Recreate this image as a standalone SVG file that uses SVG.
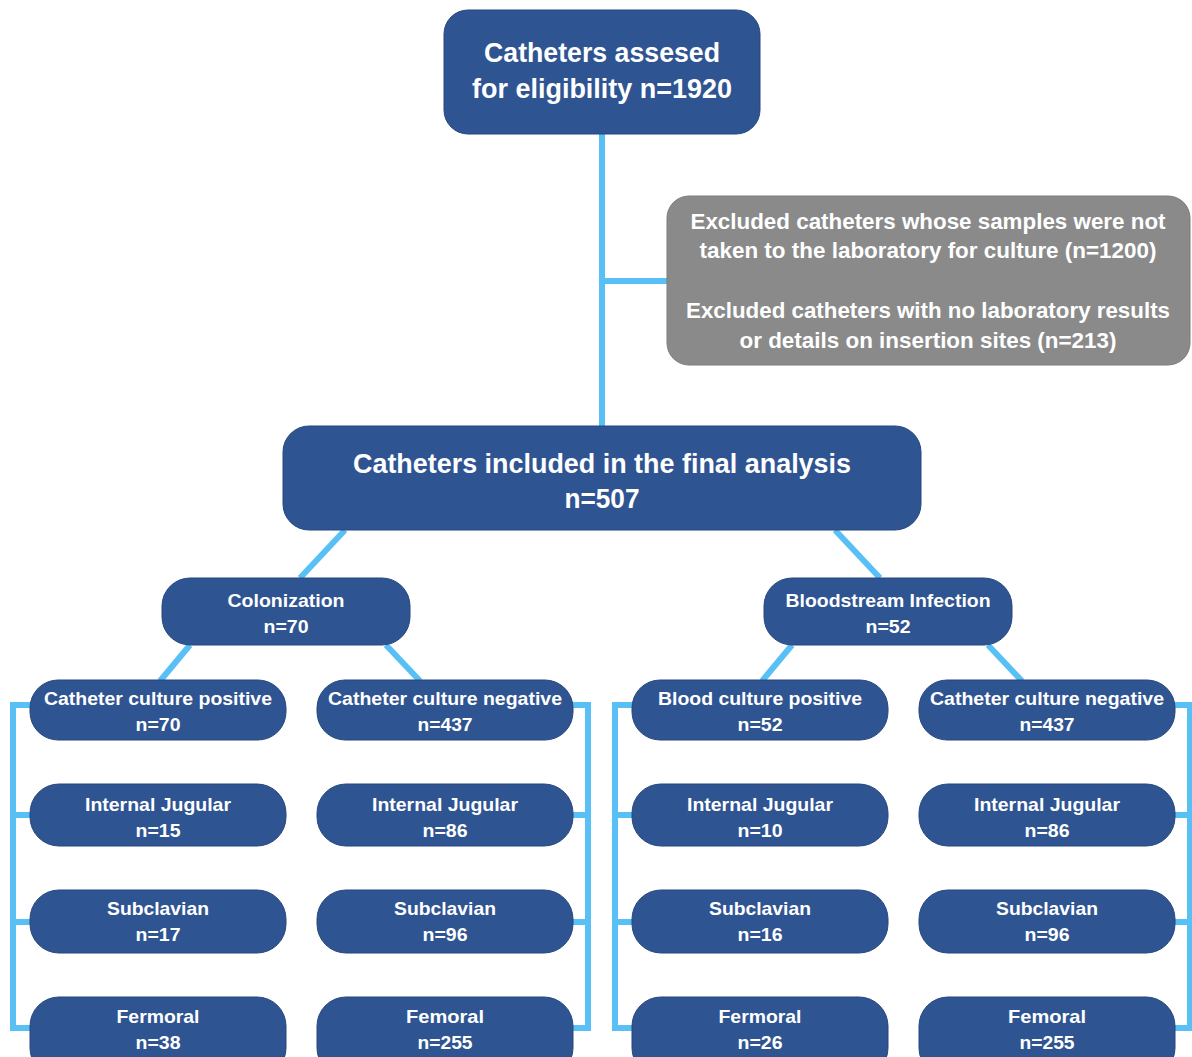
<svg xmlns="http://www.w3.org/2000/svg" width="1192" height="1057" viewBox="0 0 1192 1057">
<style>
.b{fill:#2f5492;stroke:#27477e;stroke-width:1}
.g{fill:#8a8a8a;stroke:#7c7c7c;stroke-width:1}
.t{font-family:"Liberation Sans",Arial,sans-serif;font-weight:bold;fill:#ffffff;text-anchor:middle}
.c{fill:none;stroke:#58c0f4;stroke-width:6;stroke-linejoin:miter;stroke-linecap:butt}
</style>
<rect width="1192" height="1057" fill="#ffffff"/>
<g id="connectors">
<path class="c" d="M602 134 V426"/>
<path class="c" d="M602 281 H668"/>
<path class="c" d="M345 530 L300 578"/>
<path class="c" d="M835 530 L880 578"/>
<path class="c" d="M190 645 L160 681"/>
<path class="c" d="M386 645 L420 681"/>
<path class="c" d="M792 645 L762 681"/>
<path class="c" d="M988 645 L1022 681"/>
<path class="c" d="M31 705 H13 V1028 H31 M13 815 H31 M13 922 H31"/>
<path class="c" d="M572 705 H588 V1028 H572 M588 815 H572 M588 922 H572"/>
<path class="c" d="M633 705 H615 V1028 H633 M615 815 H633 M615 922 H633"/>
<path class="c" d="M1174 705 H1190 V1028 H1174 M1190 815 H1174 M1190 922 H1174"/>
</g>
<g id="n_assessed">
<rect class="b" x="444" y="10" width="316" height="124" rx="24"/>
<text class="t" x="602" y="62" font-size="28" textLength="236" lengthAdjust="spacingAndGlyphs">Catheters assesed</text>
<text class="t" x="602" y="98" font-size="28" textLength="260" lengthAdjust="spacingAndGlyphs">for eligibility n=1920</text>
</g>
<g id="n_excluded">
<rect class="g" x="667" y="196" width="523" height="169" rx="22"/>
<text class="t" x="928" y="229" font-size="22" textLength="475" lengthAdjust="spacingAndGlyphs">Excluded catheters whose samples were not</text>
<text class="t" x="928" y="258" font-size="22" textLength="457" lengthAdjust="spacingAndGlyphs">taken to the laboratory for culture (n=1200)</text>
<text class="t" x="928" y="318" font-size="22" textLength="484" lengthAdjust="spacingAndGlyphs">Excluded catheters with no laboratory results</text>
<text class="t" x="928" y="348" font-size="22" textLength="377" lengthAdjust="spacingAndGlyphs">or details on insertion sites (n=213)</text>
</g>
<g id="n_included">
<rect class="b" x="283" y="426" width="638" height="104" rx="26"/>
<text class="t" x="602" y="473" font-size="27" textLength="498" lengthAdjust="spacingAndGlyphs">Catheters included in the final analysis</text>
<text class="t" x="602" y="508" font-size="27" textLength="75" lengthAdjust="spacingAndGlyphs">n=507</text>
</g>
<g id="n_colonization">
<rect class="b" x="162" y="578" width="248" height="67" rx="28"/>
<text class="t" x="286" y="607" font-size="19" textLength="117" lengthAdjust="spacingAndGlyphs">Colonization</text>
<text class="t" x="286" y="633" font-size="19" textLength="45" lengthAdjust="spacingAndGlyphs">n=70</text>
</g>
<g id="n_bsi">
<rect class="b" x="764" y="578" width="248" height="67" rx="28"/>
<text class="t" x="888" y="607" font-size="19" textLength="205" lengthAdjust="spacingAndGlyphs">Bloodstream Infection</text>
<text class="t" x="888" y="633" font-size="19" textLength="45" lengthAdjust="spacingAndGlyphs">n=52</text>
</g>
<g id="n_ccpos">
<rect class="b" x="30" y="680" width="256" height="60" rx="28"/>
<text class="t" x="158" y="705" font-size="19" textLength="228" lengthAdjust="spacingAndGlyphs">Catheter culture positive</text>
<text class="t" x="158" y="731" font-size="19" textLength="45" lengthAdjust="spacingAndGlyphs">n=70</text>
</g>
<g id="n_ccneg1">
<rect class="b" x="317" y="680" width="256" height="60" rx="28"/>
<text class="t" x="445" y="705" font-size="19" textLength="234" lengthAdjust="spacingAndGlyphs">Catheter culture negative</text>
<text class="t" x="445" y="731" font-size="19" textLength="55" lengthAdjust="spacingAndGlyphs">n=437</text>
</g>
<g id="n_bcpos">
<rect class="b" x="632" y="680" width="256" height="60" rx="28"/>
<text class="t" x="760" y="705" font-size="19" textLength="204" lengthAdjust="spacingAndGlyphs">Blood culture positive</text>
<text class="t" x="760" y="731" font-size="19" textLength="45" lengthAdjust="spacingAndGlyphs">n=52</text>
</g>
<g id="n_ccneg2">
<rect class="b" x="919" y="680" width="256" height="60" rx="28"/>
<text class="t" x="1047" y="705" font-size="19" textLength="234" lengthAdjust="spacingAndGlyphs">Catheter culture negative</text>
<text class="t" x="1047" y="731" font-size="19" textLength="55" lengthAdjust="spacingAndGlyphs">n=437</text>
</g>
<g id="n_ij1">
<rect class="b" x="30" y="784" width="256" height="62" rx="29"/>
<text class="t" x="158" y="811" font-size="19" textLength="146" lengthAdjust="spacingAndGlyphs">Internal Jugular</text>
<text class="t" x="158" y="837" font-size="19" textLength="45" lengthAdjust="spacingAndGlyphs">n=15</text>
</g>
<g id="n_ij2">
<rect class="b" x="317" y="784" width="256" height="62" rx="29"/>
<text class="t" x="445" y="811" font-size="19" textLength="146" lengthAdjust="spacingAndGlyphs">Internal Jugular</text>
<text class="t" x="445" y="837" font-size="19" textLength="45" lengthAdjust="spacingAndGlyphs">n=86</text>
</g>
<g id="n_ij3">
<rect class="b" x="632" y="784" width="256" height="62" rx="29"/>
<text class="t" x="760" y="811" font-size="19" textLength="146" lengthAdjust="spacingAndGlyphs">Internal Jugular</text>
<text class="t" x="760" y="837" font-size="19" textLength="45" lengthAdjust="spacingAndGlyphs">n=10</text>
</g>
<g id="n_ij4">
<rect class="b" x="919" y="784" width="256" height="62" rx="29"/>
<text class="t" x="1047" y="811" font-size="19" textLength="146" lengthAdjust="spacingAndGlyphs">Internal Jugular</text>
<text class="t" x="1047" y="837" font-size="19" textLength="45" lengthAdjust="spacingAndGlyphs">n=86</text>
</g>
<g id="n_sc1">
<rect class="b" x="30" y="890" width="256" height="63" rx="29"/>
<text class="t" x="158" y="915" font-size="19" textLength="102" lengthAdjust="spacingAndGlyphs">Subclavian</text>
<text class="t" x="158" y="941" font-size="19" textLength="45" lengthAdjust="spacingAndGlyphs">n=17</text>
</g>
<g id="n_sc2">
<rect class="b" x="317" y="890" width="256" height="63" rx="29"/>
<text class="t" x="445" y="915" font-size="19" textLength="102" lengthAdjust="spacingAndGlyphs">Subclavian</text>
<text class="t" x="445" y="941" font-size="19" textLength="45" lengthAdjust="spacingAndGlyphs">n=96</text>
</g>
<g id="n_sc3">
<rect class="b" x="632" y="890" width="256" height="63" rx="29"/>
<text class="t" x="760" y="915" font-size="19" textLength="102" lengthAdjust="spacingAndGlyphs">Subclavian</text>
<text class="t" x="760" y="941" font-size="19" textLength="45" lengthAdjust="spacingAndGlyphs">n=16</text>
</g>
<g id="n_sc4">
<rect class="b" x="919" y="890" width="256" height="63" rx="29"/>
<text class="t" x="1047" y="915" font-size="19" textLength="102" lengthAdjust="spacingAndGlyphs">Subclavian</text>
<text class="t" x="1047" y="941" font-size="19" textLength="45" lengthAdjust="spacingAndGlyphs">n=96</text>
</g>
<g id="n_fe1">
<rect class="b" x="30" y="997" width="256" height="80" rx="29"/>
<text class="t" x="158" y="1023" font-size="19" textLength="83" lengthAdjust="spacingAndGlyphs">Fermoral</text>
<text class="t" x="158" y="1049" font-size="19" textLength="45" lengthAdjust="spacingAndGlyphs">n=38</text>
</g>
<g id="n_fe2">
<rect class="b" x="317" y="997" width="256" height="80" rx="29"/>
<text class="t" x="445" y="1023" font-size="19" textLength="78" lengthAdjust="spacingAndGlyphs">Femoral</text>
<text class="t" x="445" y="1049" font-size="19" textLength="55" lengthAdjust="spacingAndGlyphs">n=255</text>
</g>
<g id="n_fe3">
<rect class="b" x="632" y="997" width="256" height="80" rx="29"/>
<text class="t" x="760" y="1023" font-size="19" textLength="83" lengthAdjust="spacingAndGlyphs">Fermoral</text>
<text class="t" x="760" y="1049" font-size="19" textLength="45" lengthAdjust="spacingAndGlyphs">n=26</text>
</g>
<g id="n_fe4">
<rect class="b" x="919" y="997" width="256" height="80" rx="29"/>
<text class="t" x="1047" y="1023" font-size="19" textLength="78" lengthAdjust="spacingAndGlyphs">Femoral</text>
<text class="t" x="1047" y="1049" font-size="19" textLength="55" lengthAdjust="spacingAndGlyphs">n=255</text>
</g>
</svg>
